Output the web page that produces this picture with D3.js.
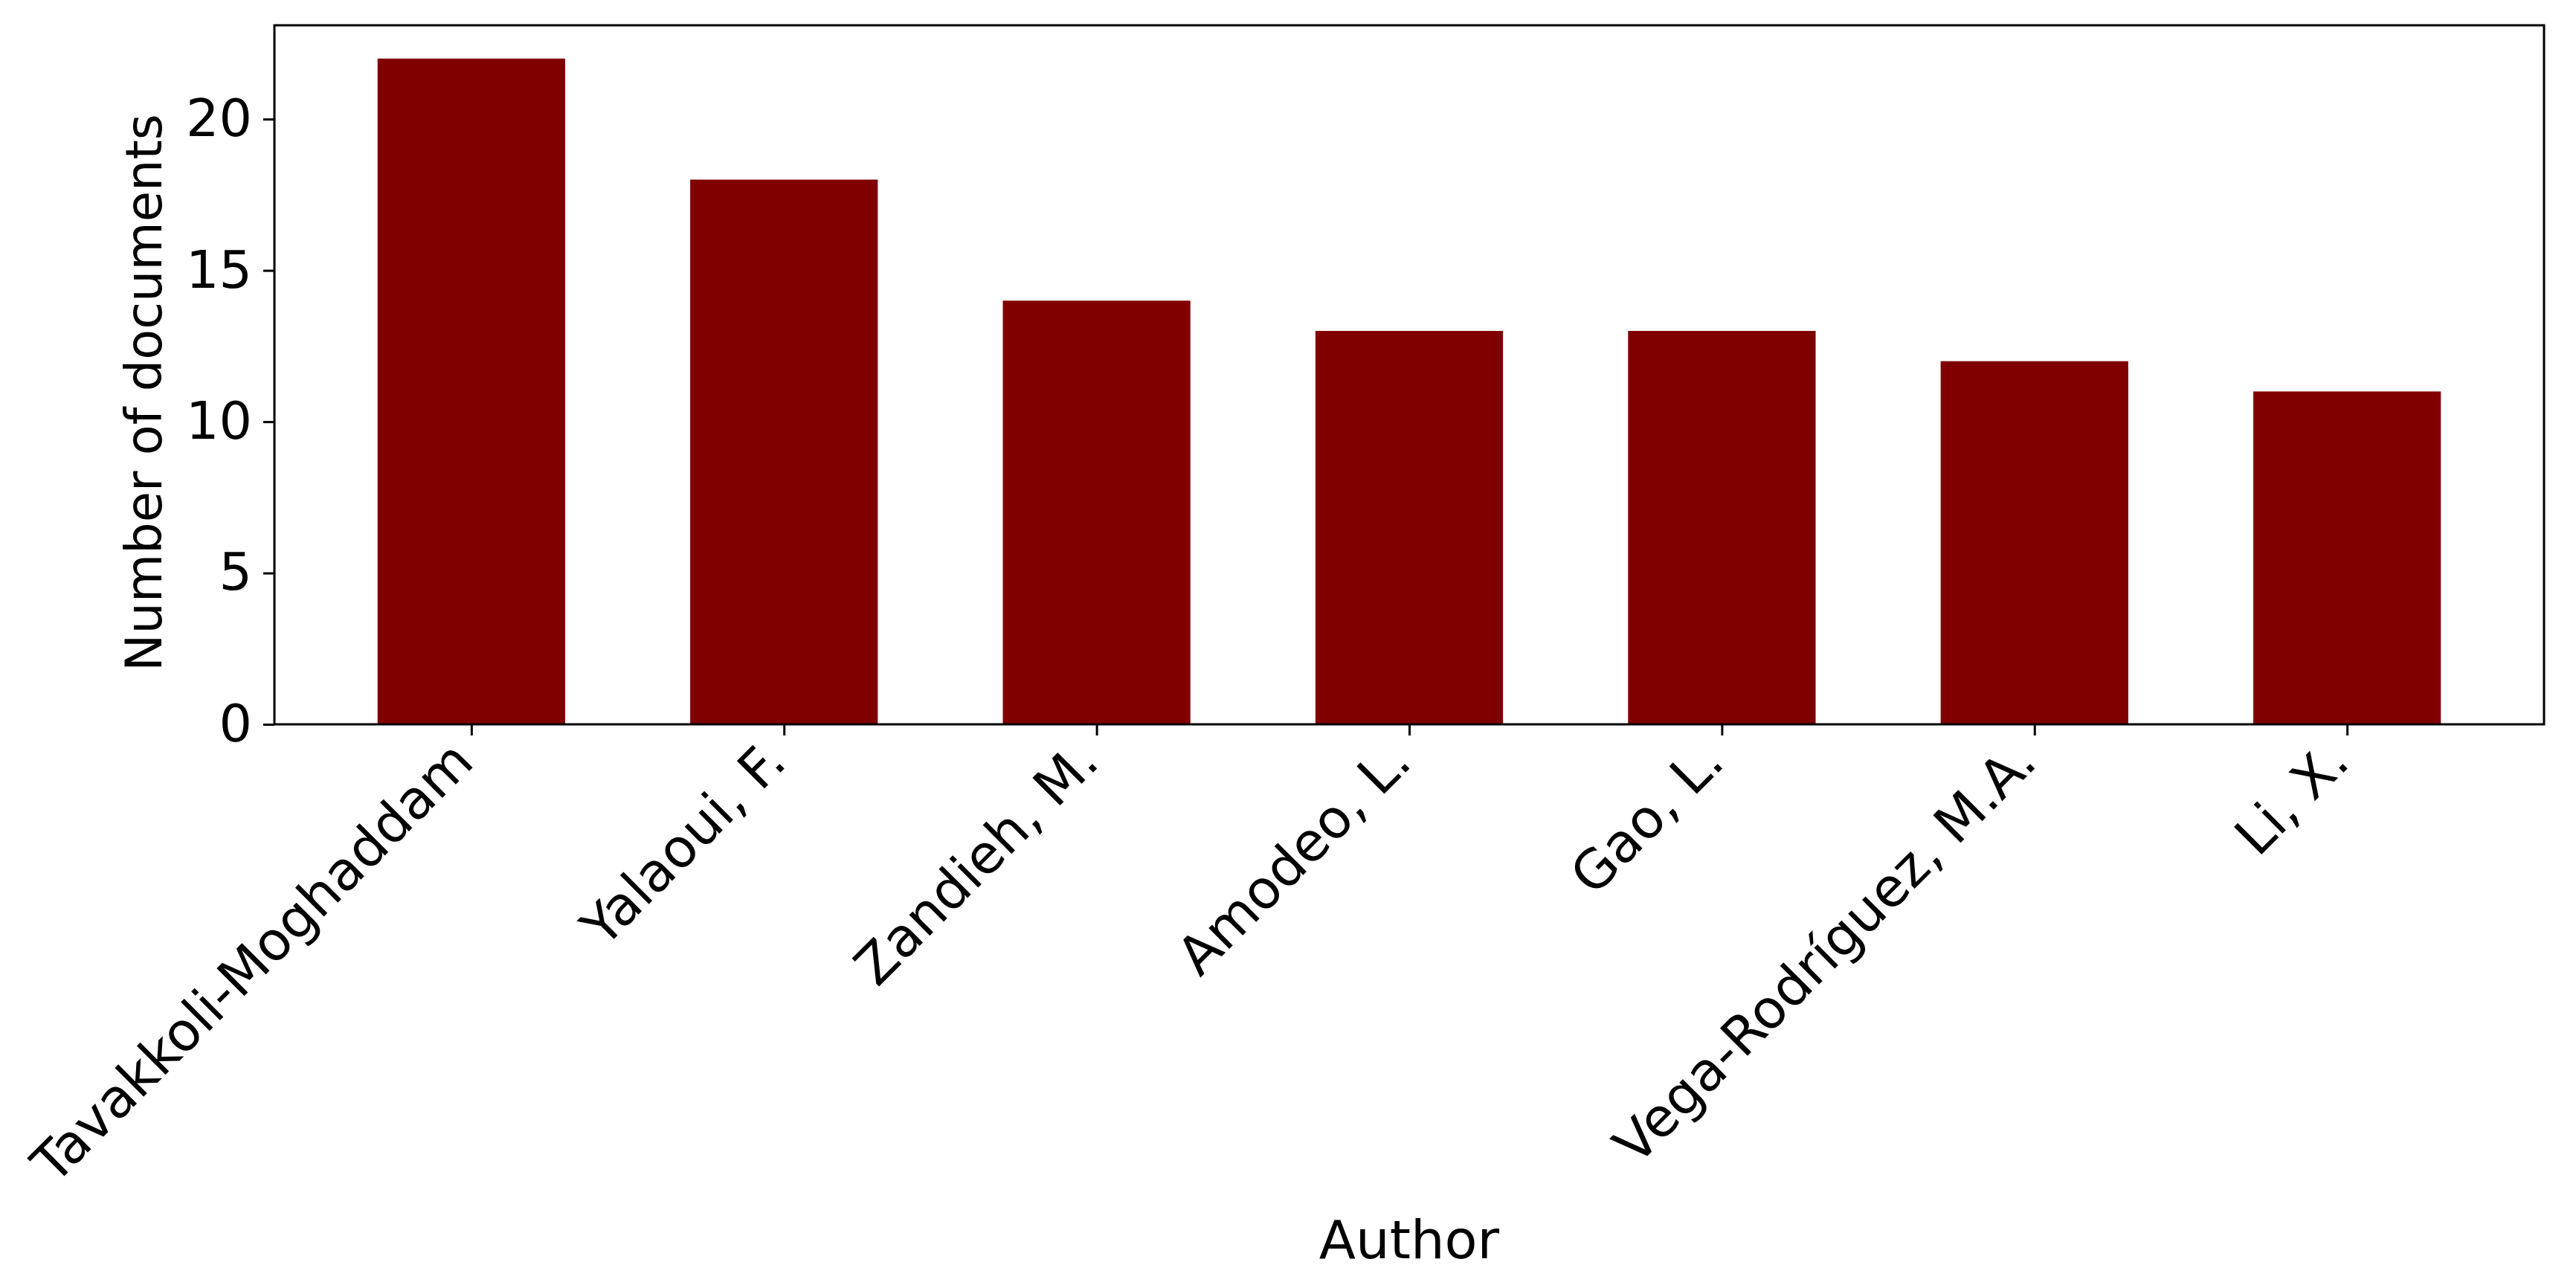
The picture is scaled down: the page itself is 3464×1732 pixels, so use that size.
<!DOCTYPE html>
<html>
<head>
<meta charset="utf-8">
<script src="https://cdn.jsdelivr.net/npm/d3@7"></script>
<style>
  html, body { margin: 0; padding: 0; background: #ffffff; }
  svg { display: block; }
  text { font-family: "DejaVu Sans", sans-serif; fill: #000; }
</style>
</head>
<body>
<script>
const authors = ["Tavakkoli-Moghaddam", "Yalaoui, F.", "Zandieh, M.", "Amodeo, L.", "Gao, L.", "Vega-Rodríguez, M.A.", "Li, X."];
const documents = [22, 18, 14, 13, 13, 12, 11];
const yTicks = [0, 5, 10, 15, 20];
const xTitle = "Author";
const yTitle = "Number of documents";

const W = 3464, H = 1732;
const plotLeft = 369, plotRight = 3421, plotTop = 34, plotBottom = 974;
const barWidth = 0.6;
const tickFont = 70, xLabelFont = 72, xTitleFont = 72, yTitleFont = 67;
const tickLen = 15, tickPad = 15;

const svg = d3.select("body").append("svg").attr("width", W).attr("height", H);

const idx = authors.map((d, i) => i);
const span = authors.length - 1 + barWidth;
const x = d3.scaleLinear()
  .domain([-barWidth / 2 - 0.05 * span, authors.length - 1 + barWidth / 2 + 0.05 * span])
  .range([plotLeft, plotRight]);
const y = d3.scaleLinear().domain([0, d3.max(documents) * 1.05]).range([plotBottom, plotTop]);

// bars
svg.append("g").selectAll("rect").data(documents).join("rect")
  .attr("x", (d, i) => x(i - barWidth / 2))
  .attr("width", (d, i) => x(i + barWidth / 2) - x(i - barWidth / 2))
  .attr("y", d => y(d))
  .attr("height", d => y(0) - y(d))
  .attr("fill", "#800000");

// y axis
const yAxis = d3.axisLeft(y).tickValues(yTicks).tickSize(tickLen).tickPadding(tickPad).tickFormat(d3.format("d"));
const gy = svg.append("g").attr("transform", `translate(${plotLeft},0)`).call(yAxis);
gy.select(".domain").remove();
gy.selectAll(".tick line").attr("stroke", "#000").attr("stroke-width", 3);
gy.selectAll(".tick text").attr("font-size", tickFont).attr("font-family", "DejaVu Sans").attr("fill", "#000");

// x axis
const xAxis = d3.axisBottom(x).tickValues(idx).tickSize(tickLen).tickFormat("");
const gx = svg.append("g").attr("transform", `translate(0,${plotBottom})`).call(xAxis);
gx.select(".domain").remove();
gx.selectAll(".tick line").attr("stroke", "#000").attr("stroke-width", 3);

// rotated x labels
svg.append("g").selectAll("text").data(authors).join("text")
  .attr("transform", (d, i) => `translate(${x(i) + 6},${plotBottom + 54}) rotate(-45)`)
  .attr("text-anchor", "end")
  .attr("font-size", xLabelFont)
  .text(d => d);

// frame
svg.append("rect")
  .attr("x", plotLeft).attr("y", plotTop)
  .attr("width", plotRight - plotLeft).attr("height", plotBottom - plotTop)
  .attr("fill", "none").attr("stroke", "#000").attr("stroke-width", 3);

// axis titles
svg.append("text")
  .attr("x", (plotLeft + plotRight) / 2).attr("y", 1692)
  .attr("text-anchor", "middle").attr("font-size", xTitleFont)
  .text(xTitle);
svg.append("text")
  .attr("transform", `translate(217,528) rotate(-90)`)
  .attr("text-anchor", "middle").attr("font-size", yTitleFont)
  .text(yTitle);
</script>
</body>
</html>
